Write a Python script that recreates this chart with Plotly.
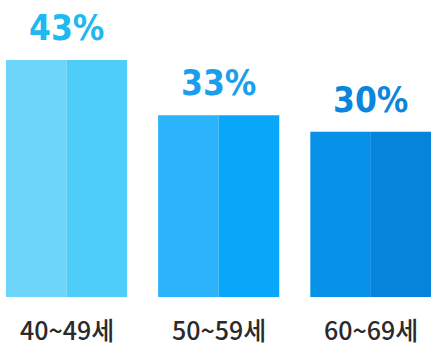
import plotly.graph_objects as go

categories = ["40~49세", "50~59세", "60~69세"]
values = [43, 33, 30]
value_labels = ["43%", "33%", "30%"]
left_colors = ["#6DD5FA", "#2BB4FC", "#0791E8"]
right_colors = ["#4FCDF9", "#08A7F9", "#0683DB"]
label_colors = ["#1DB9F0", "#1A9FEE", "#0A86DD"]

xs = list(range(len(categories)))
half = 0.398

fig = go.Figure()
fig.add_trace(go.Bar(x=xs, y=values, width=half, offset=-half,
                     marker=dict(color=left_colors, line=dict(width=0)), hoverinfo="skip"))
fig.add_trace(go.Bar(x=xs, y=values, width=half, offset=0,
                     marker=dict(color=right_colors, line=dict(width=0)), hoverinfo="skip"))

for x, v, t, c in zip(xs, values, value_labels, label_colors):
    fig.add_annotation(x=x, y=v, text="<b>" + t + "</b>", showarrow=False, yanchor="middle", yshift=32,
                       font=dict(family="DejaVu Sans Condensed, Noto Sans", size=35, color=c))
for x, cat in zip(xs, categories):
    fig.add_annotation(x=x, y=0, yref="paper", text=cat, showarrow=False, yanchor="middle", yshift=-32,
                       font=dict(family="Noto Sans CJK KR", size=25, color="#2a2a2a", weight=500))

fig.update_layout(
    width=431, height=346, margin=dict(l=0, r=0, t=0, b=49),
    paper_bgcolor="white", plot_bgcolor="white", showlegend=False, barmode="overlay",
    xaxis=dict(range=[-0.437, 2.395], visible=False),
    yaxis=dict(range=[0, 53.9], visible=False),
)
fig.write_html("out.html")
